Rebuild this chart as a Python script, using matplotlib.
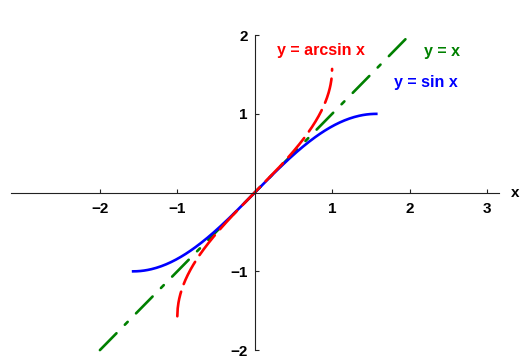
import numpy as np
import matplotlib
matplotlib.use("Agg")
import matplotlib.pyplot as plt

plt.rcParams['font.family'] = ['Liberation Sans', 'DejaVu Sans']
plt.rcParams['lines.scale_dashes'] = False

# domains of the three curves
x_sin = np.linspace(-np.pi / 2, np.pi / 2, 200)
x_asin = np.linspace(-1, 1, 400)
x_line = np.array([-2.0, 2.0])

xticks = [-2, -1, 1, 2, 3]
yticks = [-2, -1, 1, 2]

fig = plt.figure(figsize=(5.29, 3.56), dpi=100)
ax = fig.add_axes([0, 0, 1, 1])
ax.set_xlim(-3.291, 3.544)
ax.set_ylim(-2.075, 2.446)

ax.plot(x_line, x_line, color='#008000', lw=1.9, dashes=(17, 8.6, 2.9, 8.6),
        dash_capstyle='round')
ax.plot(x_sin, np.sin(x_sin), color='#0000ff', lw=1.9)
ax.plot(x_asin, np.arcsin(x_asin), color='#ff0000', lw=1.9, dashes=(18, 5.8),
        dash_capstyle='round')

# axes through the origin
for s in ['top', 'right']:
    ax.spines[s].set_visible(False)
ax.spines['left'].set_position(('data', 0))
ax.spines['bottom'].set_position(('data', 0))
ax.spines['left'].set_bounds(-2, 2)
ax.spines['bottom'].set_bounds(-3.15, 3.15)
for s in ['left', 'bottom']:
    ax.spines[s].set_linewidth(0.8)
    ax.spines[s].set_color('#222222')

ax.set_xticks(xticks)
ax.set_yticks(yticks)
ax.set_xticklabels(['\u22122', '\u22121', '1', '2', '3'], fontweight='bold')
ax.set_yticklabels(['\u22122', '\u22121', '1', '2'], fontweight='bold')
ax.tick_params(axis='x', direction='in', length=3, width=0.8, pad=7,
               labelsize=11, color='#222222')
ax.tick_params(axis='y', direction='in', length=3, width=0.8, pad=5,
               labelsize=11, color='#222222')

ax.text(3.36, 0, 'x', fontsize=11, fontweight='bold', va='center', ha='center')

ax.text(0.288, 1.747, 'y = arcsin x', color='#ff0000', fontsize=11.5,
        fontweight='bold', va='baseline')
ax.text(2.187, 1.735, 'y = x', color='#008000', fontsize=11.5,
        fontweight='bold', va='baseline')
ax.text(1.80, 1.345, 'y = sin x', color='#0000ff', fontsize=11.5,
        fontweight='bold', va='baseline')

fig.savefig('out.png', dpi=100)
